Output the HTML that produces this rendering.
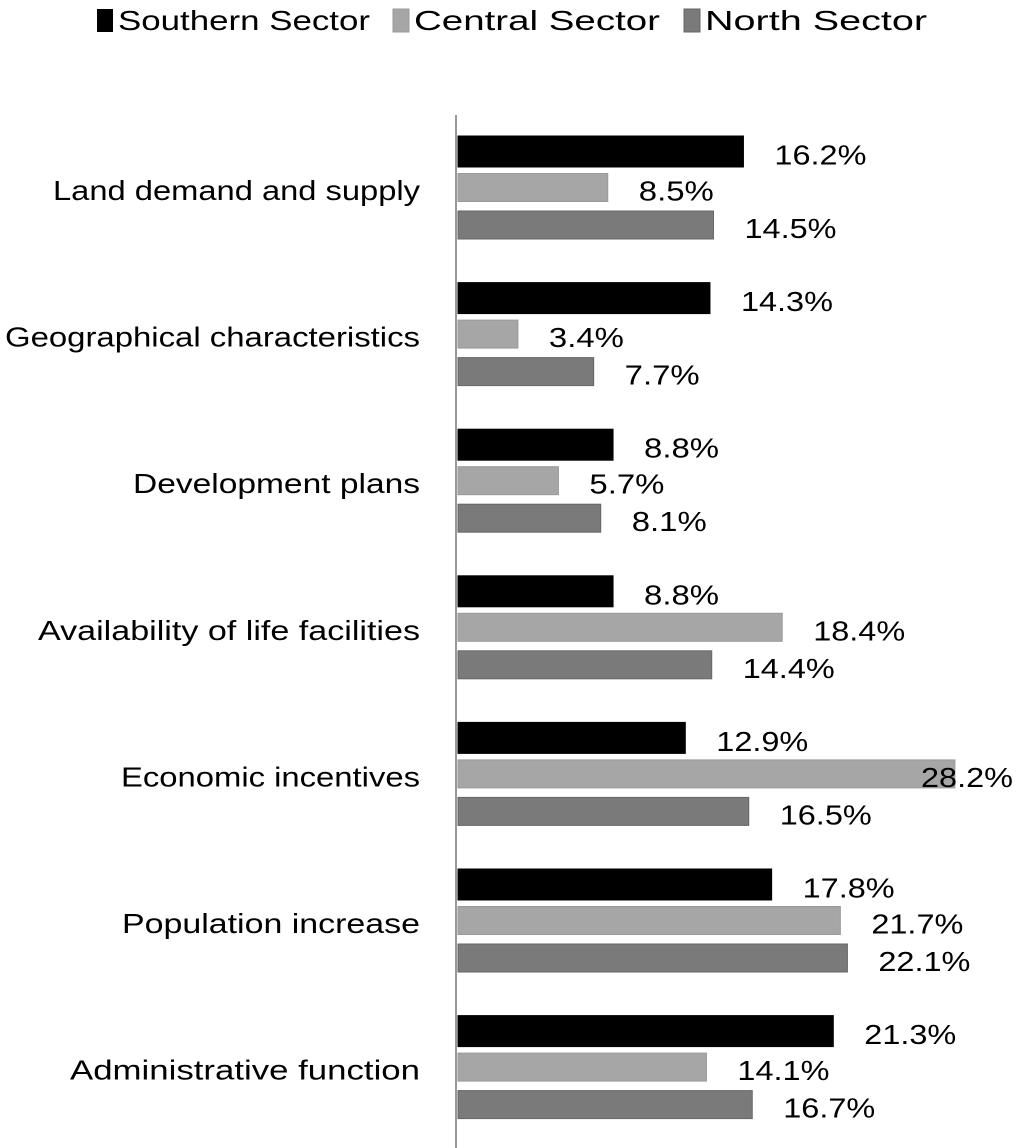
<!DOCTYPE html>
<html><head><meta charset="utf-8"><style>
body{margin:0;background:#fff}
svg{display:block;font-family:"Liberation Sans",sans-serif}
</style></head><body>
<svg id="chart" width="1024" height="1148" viewBox="0 0 1024 1148" xmlns="http://www.w3.org/2000/svg">
<rect width="1024" height="1148" fill="#fff"/>
<g>
  <g><rect x="97" y="9" width="16" height="23" fill="#000"/><text x="118" y="30" font-size="28" textLength="252" lengthAdjust="spacingAndGlyphs">Southern Sector</text></g>
  <g><rect x="393" y="9" width="16" height="23" fill="#a6a6a6" stroke="#999"/><text x="414" y="30" font-size="28" textLength="246" lengthAdjust="spacingAndGlyphs">Central Sector</text></g>
  <g><rect x="684" y="9" width="16" height="23" fill="#7a7a7a" stroke="#666"/><text x="705" y="30" font-size="28" textLength="222" lengthAdjust="spacingAndGlyphs">North Sector</text></g>
</g>
<line x1="456" y1="115" x2="456" y2="1148" stroke="#999" stroke-width="2"/>
<g id="bars"></g>
</svg>
<script>
const categories=["Land demand and supply","Geographical characteristics","Development plans","Availability of life facilities","Economic incentives","Population  increase","Administrative  function"];
const southern=[16.2,14.3,8.8,8.8,12.9,17.8,21.3];
const central=[8.5,3.4,5.7,18.4,28.2,21.7,14.1];
const north=[14.5,7.7,8.1,14.4,16.5,22.1,16.7];
const labelWidths=[367,415,287,382,299,298,350];
const x=v=>458+v*17.62;
const groupY=i=>136+i*146.6;
const g=document.getElementById('bars');
const NS="http://www.w3.org/2000/svg";
const series=[{d:southern,n:'southern',f:'#000',s:'#000'},{d:central,n:'central',f:'#a6a6a6',s:'#999'},{d:north,n:'north',f:'#7a7a7a',s:'#666'}];
categories.forEach((c,i)=>{
  const t=document.createElementNS(NS,'text');
  
  
  t.setAttribute('x',420);t.setAttribute('y',groupY(i)+64);
  t.setAttribute('text-anchor','end');t.setAttribute('font-size','28');
  t.setAttribute('textLength',labelWidths[i]);t.setAttribute('lengthAdjust','spacingAndGlyphs');
  t.setAttribute('xml:space','preserve');
  t.textContent=c;g.appendChild(t);
  series.forEach((s,k)=>{
    const y=groupY(i)+k*37.5, h=k==0?31:28;
    const r=document.createElementNS(NS,'rect');
    
    
    r.setAttribute('x',458);r.setAttribute('y',y);r.setAttribute('width',x(s.d[i])-458);r.setAttribute('height',h);
    r.setAttribute('fill',s.f);r.setAttribute('stroke',s.s);
    g.appendChild(r);
    const txt=s.d[i].toFixed(1)+'%';
    const l=document.createElementNS(NS,'text');
    
    
    l.setAttribute('x',Math.min(x(s.d[i])+31,921));l.setAttribute('y',y+h/2+13);
    l.setAttribute('font-size','28');
    l.setAttribute('textLength',txt.length>4?92:75);l.setAttribute('lengthAdjust','spacingAndGlyphs');
    l.textContent=txt;g.appendChild(l);
  });
});
</script>
</body></html>
